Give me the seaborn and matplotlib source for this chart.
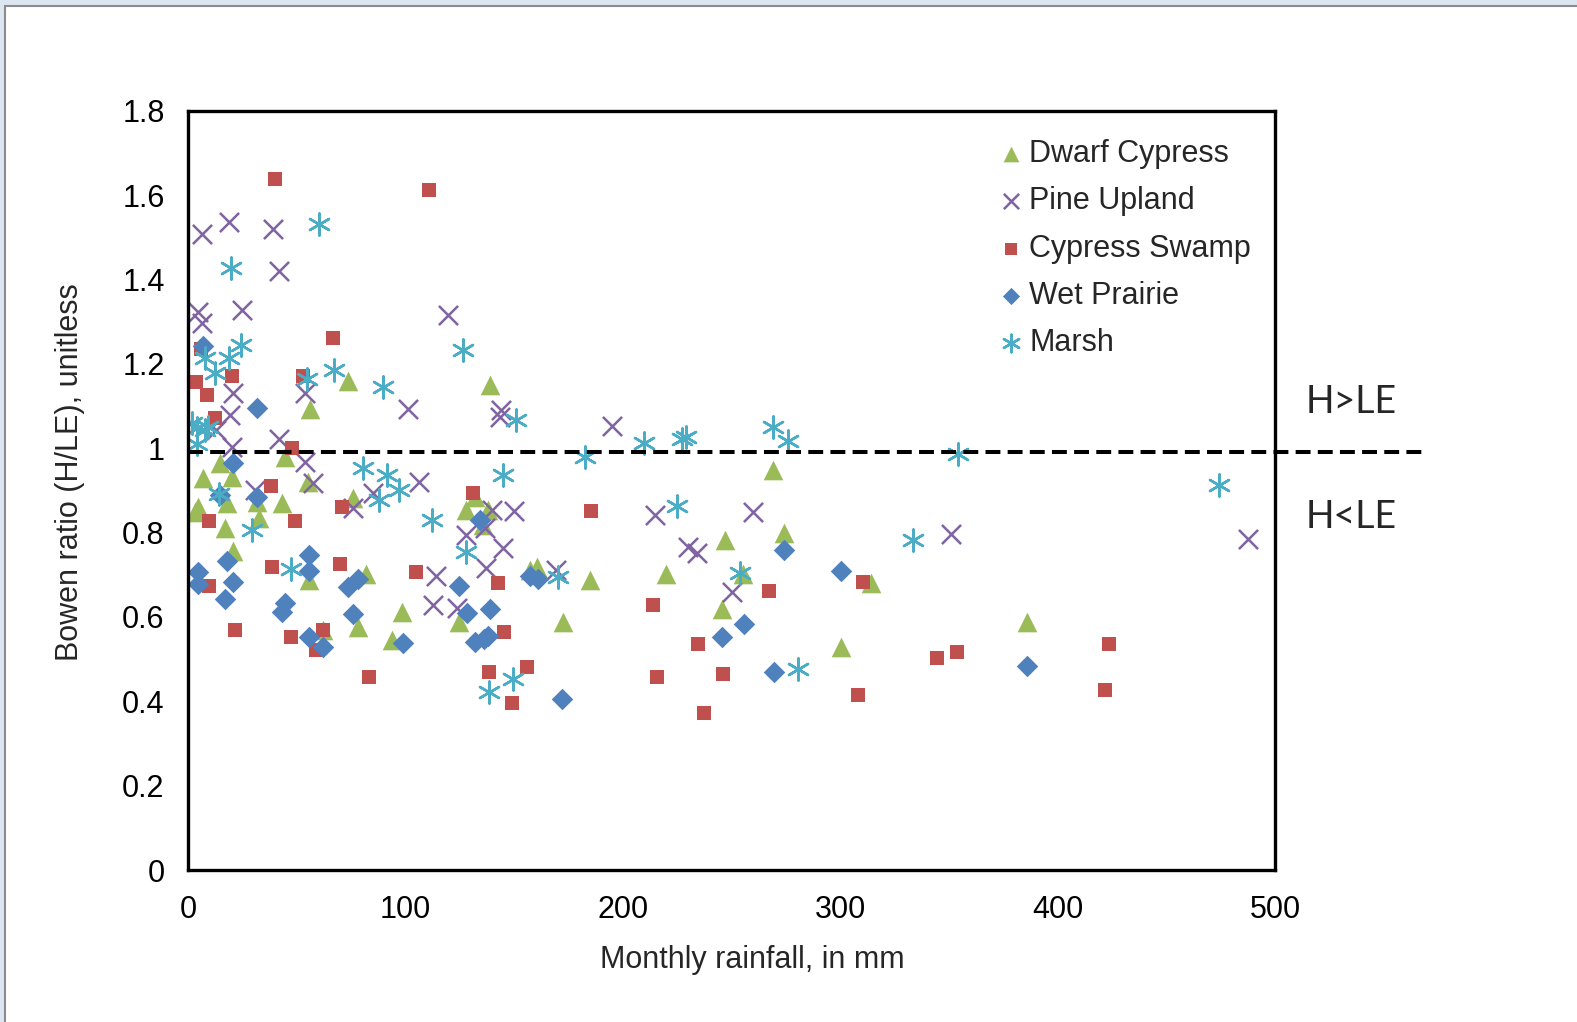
import matplotlib
matplotlib.use('Agg')
from matplotlib import pyplot as plt
from matplotlib.patches import Rectangle
from matplotlib.ticker import FuncFormatter, MultipleLocator
import seaborn as sns

# Dwarf Cypress
dc_x = [3, 4.6, 7, 14.7, 17, 17.8, 20, 20.8, 31.6, 32.8,
        43, 44.6, 55.3, 56, 55.8, 62, 73.7, 75.7, 78, 82,
        93.6, 98.5, 124.7, 128, 132, 135.8, 138, 138.9, 157.2, 160.6,
        172.3, 184.8, 220, 245.4, 247, 255, 269, 274, 300.4, 314, 386]
dc_y = [0.85, 0.861, 0.929, 0.964, 0.81, 0.869, 0.932, 0.757, 0.873, 0.834,
        0.869, 0.98, 0.921, 1.094, 0.687, 0.57, 1.16, 0.881, 0.577, 0.703,
        0.545, 0.612, 0.589, 0.853, 0.885, 0.818, 0.853, 1.15, 0.711, 0.718,
        0.589, 0.687, 0.703, 0.618, 0.782, 0.703, 0.949, 0.80, 0.53, 0.68, 0.587]

# Pine Upland
pu_x = [4.6, 6.2, 6.3, 13, 18.8, 19.3, 20, 20.8, 25, 30.8,
        39, 41.8, 41.9, 53.8, 53.8, 57.6, 76, 85, 101, 106,
        112.6, 114.2, 119.6, 123.5, 128, 136.5, 137, 139.6, 143.5, 144,
        145, 150, 169, 195, 214.8, 230, 234, 250, 259.6, 351, 487.5]
pu_y = [1.323, 1.296, 1.508, 1.043, 1.537, 1.079, 1.003, 1.131, 1.328, 0.90,
        1.52, 1.022, 1.419, 0.968, 1.131, 0.917, 0.858, 0.894, 1.093, 0.921,
        0.628, 0.696, 1.316, 0.621, 0.794, 0.81, 0.716, 0.854, 1.075, 1.09,
        0.763, 0.852, 0.711, 1.052, 0.842, 0.767, 0.751, 0.659, 0.85, 0.797, 0.785]

# Cypress Swamp
cs_x = [3.7, 6, 8.6, 9.6, 9.7, 12.4, 20, 21.6, 38, 38.7,
        40, 47.4, 47.6, 49, 53, 59, 61.9, 66.6, 69.8, 70.6,
        83, 104.8, 111, 131, 138.4, 142.7, 145.4, 148.8, 156, 185.3,
        213.7, 215.8, 234.6, 237.4, 245.9, 267, 308.3, 310.5, 344.6, 353.8,
        421.8, 423.4]
cs_y = [1.158, 1.235, 1.126, 0.828, 0.674, 1.072, 1.171, 0.569, 0.911, 0.719,
        1.638, 0.552, 1.0, 0.828, 1.171, 0.522, 0.569, 1.261, 0.726, 0.861,
        0.457, 0.706, 1.612, 0.893, 0.469, 0.681, 0.564, 0.397, 0.482, 0.851,
        0.628, 0.457, 0.536, 0.372, 0.466, 0.662, 0.415, 0.684, 0.502, 0.516,
        0.427, 0.536]

# Wet Prairie
wp_x = [4.7, 4.7, 7, 14.7, 17, 18, 20.5, 20.8, 31.7, 31.8,
        43, 44.6, 55.8, 55.8, 55.8, 61.9, 73.7, 76, 78.3, 98.7,
        124.7, 128.4, 132, 134, 136.2, 138, 138.9, 157.2, 161, 172,
        245.4, 255.8, 269.5, 274, 300.4, 386]
wp_y = [0.706, 0.677, 1.242, 0.889, 0.642, 0.733, 0.966, 0.683, 1.096, 0.885,
        0.612, 0.634, 0.747, 0.71, 0.553, 0.53, 0.672, 0.607, 0.689, 0.539,
        0.674, 0.61, 0.541, 0.83, 0.547, 0.555, 0.618, 0.697, 0.689, 0.405,
        0.553, 0.583, 0.469, 0.759, 0.709, 0.484]

# Marsh
ma_x = [2, 4, 4, 7.8, 7.8, 9.2, 12.4, 14.3, 19, 19.6,
        24.3, 29.2, 47.3, 54.6, 60.3, 67, 80.2, 88, 89.5, 91.3,
        97.1, 112, 126.3, 127.8, 138.4, 145, 149.6, 150.6, 170.3, 182.5,
        209.8, 225, 227, 229, 253.8, 268.9, 275.8, 280.7, 333.2, 354.2, 474]
ma_y = [1.06, 1.047, 1.011, 1.213, 1.043, 1.051, 1.179, 0.891, 1.213, 1.427,
        1.245, 0.806, 0.713, 1.163, 1.531, 1.185, 0.952, 0.877, 1.146, 0.937,
        0.902, 0.83, 1.233, 0.755, 0.423, 0.937, 0.452, 1.067, 0.695, 0.98,
        1.012, 0.863, 1.021, 1.026, 0.705, 1.051, 1.016, 0.476, 0.782, 0.986, 0.913]

threshold = 0.99

sns.set_style('white')
plt.rcParams['font.family'] = ['Liberation Sans', 'DejaVu Sans']

fig = plt.figure(figsize=(15.77, 10.22), dpi=100)
fig.patch.set_facecolor('#dce6f1')
fig.add_artist(Rectangle((5 / 1577, -0.01), 1.0, 1.01 - 6 / 1022,
                         transform=fig.transFigure, facecolor='white',
                         edgecolor='#8c8c8c', linewidth=1.5, zorder=0))

ax = fig.add_axes([0.1193, 0.1486, 0.6894, 0.7431])

series = [
    ('Dwarf Cypress', dc_x, dc_y, '^', '#9bbb59', 200, 0),
    ('Pine Upland', pu_x, pu_y, 'x', '#8064a2', 190, 1.8),
    ('Cypress Swamp', cs_x, cs_y, 's', '#c0504d', 100, 0),
    ('Wet Prairie', wp_x, wp_y, 'D', '#4f81bd', 120, 0),
    ('Marsh', ma_x, ma_y, (6, 2, 0), '#4bacc6', 250, 1.8),
]
for name, xs, ys, m, c, s, lw in series:
    sns.scatterplot(x=xs, y=ys, ax=ax, marker=m, color=c, s=s,
                    edgecolor=c, linewidth=lw, label=name, legend=False,
                    zorder=2)

ax.plot([0, 568], [threshold, threshold], color='black', lw=2.9,
        dashes=(3.7, 1.8), clip_on=False, zorder=3)

ax.set_xlim(0, 500)
ax.set_ylim(0, 1.8)
ax.xaxis.set_major_locator(MultipleLocator(100))
ax.yaxis.set_major_locator(MultipleLocator(0.2))
ax.yaxis.set_major_formatter(FuncFormatter(lambda v, p: '%g' % round(v, 1)))
ax.tick_params(direction='in', length=7, width=2.4, labelsize=22, colors='black')
ax.tick_params(axis='y', pad=17)
ax.tick_params(axis='x', pad=18)
for sp in ax.spines.values():
    sp.set_visible(True)
    sp.set_color('black')
    sp.set_linewidth(2.4)

ax.set_xlabel('Monthly rainfall, in mm', fontsize=22)
ax.set_ylabel('Bowen ratio (H/LE), unitless', fontsize=22)
ax.xaxis.set_label_coords(0.519, -0.099)
ax.yaxis.set_label_coords(-0.095, 0.524)

ax.legend(loc='upper left', bbox_to_anchor=(0.747, 0.963), frameon=False,
          fontsize=22, markerscale=0.8, handlelength=0.7, handletextpad=0.25,
          labelspacing=0.57, borderpad=0, borderaxespad=0)

fig.text(0.8565, 0.6063, 'H>LE', fontsize=27, ha='center', va='center',
         family=['Lato', 'DejaVu Sans'])
fig.text(0.8565, 0.4941, 'H<LE', fontsize=27, ha='center', va='center',
         family=['Lato', 'DejaVu Sans'])

fig.savefig('out.png', dpi=100)
